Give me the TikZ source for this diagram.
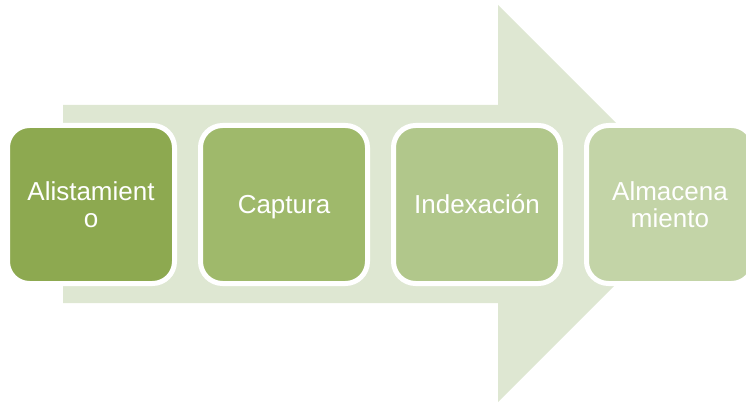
\documentclass[tikz,border=0pt]{standalone}
\usepackage{fontspec}
\setmainfont{Liberation Sans}
\definecolor{arrowc}{RGB}{222,231,210}
\definecolor{c1}{RGB}{141,169,80}
\definecolor{c2}{RGB}{159,185,107}
\definecolor{c3}{RGB}{177,199,139}
\definecolor{c4}{RGB}{195,212,167}
\tikzset{
  stepbox/.style={rounded corners=22pt, draw=white, line width=5pt,
    minimum width=167pt, minimum height=158pt, inner sep=0pt,
    text=white, align=center, font=\fontsize{26}{27}\selectfont},
  oneline/.style={text height=18.6pt, text depth=0pt},
}
\begin{document}
\begin{tikzpicture}[x=1pt,y=-1pt]
\useasboundingbox (0,0) rectangle (746,403);
\clip (0,0) rectangle (746,403);
\fill[arrowc] (63,105) -- (498,105) -- (498,5) -- (696.5,203.5) -- (498,402) -- (498,303) -- (63,303) -- cycle;
\node[stepbox, fill=c1] (b1) at (91,204.5) {Alistamient\\o};
\node[stepbox, oneline, fill=c2] (b2) at (284,204.5) {Captura};
\node[stepbox, oneline, fill=c3] (b3) at (477,204.5) {Indexación};
\node[stepbox, fill=c4] (b4) at (670,204.5) {Almacena\\miento};
\end{tikzpicture}
\end{document}
